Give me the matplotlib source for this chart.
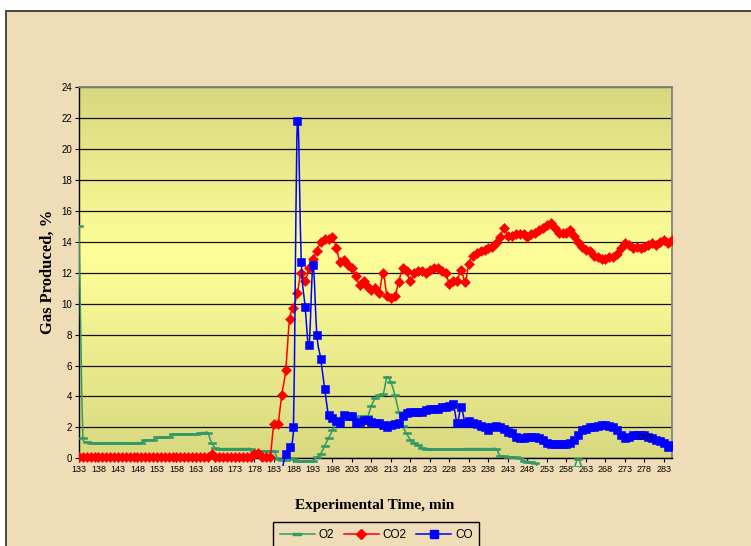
import numpy as np
import matplotlib
matplotlib.use("Agg")
import matplotlib.pyplot as plt
from matplotlib.path import Path
from matplotlib.patches import PathPatch, Rectangle
from matplotlib.lines import Line2D
from matplotlib.colors import LinearSegmentedColormap

# one reading per minute, 133 .. 285
minutes = np.arange(133, 286)

o2 = [
    15.0, 1.3, 1.05, 1.0, 1.0, 1.0, 1.0, 1.0, 1.0, 1.0,          # 133-142
    1.0, 1.0, 1.0, 1.0, 1.0, 1.0, 1.0, 1.15, 1.15, 1.15,          # 143-152
    1.35, 1.35, 1.35, 1.35, 1.55, 1.55, 1.55, 1.55, 1.55, 1.55,   # 153-162
    1.55, 1.65, 1.65, 1.65, 1.0, 0.65, 0.62, 0.62, 0.62, 0.62,    # 163-172
    0.62, 0.62, 0.62, 0.62, 0.62, 0.45, 0.45, 0.45, 0.45, 0.45,   # 173-182
    0.45, -0.05, -0.1, -0.1, 0.0, -0.05, -0.15, -0.2, -0.2, -0.2, # 183-192
    -0.15, 0.05, 0.3, 0.8, 1.3, 1.8, 2.3, 2.55, 2.55, 2.55,       # 193-202
    2.55, 2.55, 2.7, 2.7, 2.7, 3.4, 3.9, 4.1, 4.15, 5.25,         # 203-212
    4.9, 4.1, 3.0, 2.1, 1.6, 1.2, 1.0, 0.85, 0.65, 0.57,          # 213-222
    0.57, 0.57, 0.57, 0.57, 0.57, 0.57, 0.57, 0.57, 0.57, 0.62,   # 223-232
    0.62, 0.62, 0.62, 0.62, 0.62, 0.62, 0.62, 0.6, 0.15, 0.12,    # 233-242
    0.1, 0.08, 0.05, 0.0, -0.2, -0.25, -0.25, -0.3, -0.8, -1.0,   # 243-252
    -1.0, -1.0, -1.0, -1.0, -1.0, -1.0, -1.0, -0.6, -0.05, -0.6,  # 253-262
    -1.0, -1.0, -1.0, -1.0, -1.0, -1.0, -1.0, -1.0, -1.0, -1.0,   # 263-272
    -1.0, -1.0, -1.0, -1.0, -1.0, -1.0, -1.0, -1.0, -1.0, -1.0,   # 273-282
    -1.0, -1.0, -1.0,                                             # 283-285
]

co2 = [
    0.1, 0.1, 0.1, 0.1, 0.1, 0.1, 0.1, 0.1, 0.1, 0.1,             # 133-142
    0.1, 0.1, 0.1, 0.1, 0.1, 0.1, 0.1, 0.1, 0.1, 0.1,             # 143-152
    0.1, 0.1, 0.1, 0.1, 0.1, 0.1, 0.1, 0.1, 0.1, 0.1,             # 153-162
    0.1, 0.1, 0.1, 0.1, 0.3, 0.1, 0.1, 0.1, 0.1, 0.1,             # 163-172
    0.1, 0.1, 0.1, 0.1, 0.1, 0.3, 0.35, 0.1, 0.1, 0.1,            # 173-182
    2.2, 2.2, 4.1, 5.7, 9.0, 9.7, 10.7, 12.0, 11.5, 12.3,         # 183-192
    12.9, 13.4, 14.0, 14.2, 14.2, 14.3, 13.6, 12.7, 12.8, 12.5,   # 193-202
    12.3, 11.8, 11.2, 11.5, 11.1, 10.9, 11.0, 10.7, 12.0, 10.5,   # 203-212
    10.4, 10.5, 11.4, 12.3, 12.1, 11.5, 12.0, 12.1, 12.1, 12.0,   # 213-222
    12.2, 12.3, 12.3, 12.1, 12.0, 11.3, 11.5, 11.5, 12.2, 11.4,   # 223-232
    12.6, 13.1, 13.3, 13.4, 13.5, 13.6, 13.7, 13.9, 14.3, 14.9,   # 233-242
    14.4, 14.4, 14.5, 14.5, 14.5, 14.3, 14.5, 14.6, 14.8, 14.9,   # 243-252
    15.1, 15.2, 14.9, 14.6, 14.6, 14.6, 14.8, 14.4, 14.0, 13.7,   # 253-262
    13.5, 13.4, 13.1, 13.0, 12.9, 12.9, 13.0, 13.0, 13.2, 13.6,   # 263-272
    13.9, 13.8, 13.6, 13.7, 13.6, 13.7, 13.8, 13.9, 13.8, 14.0,   # 273-282
    14.1, 13.9, 14.1,                                             # 283-285
]

# CO only starts reading at 185 min
co_minutes = np.arange(185, 286)
co = [
    -0.9, 0.3, 0.7, 2.0, 21.8, 12.7, 9.8, 7.3,                    # 185-192
    12.5, 8.0, 6.4, 4.5, 2.8, 2.6, 2.4, 2.3, 2.8, 2.7,            # 193-202
    2.7, 2.3, 2.35, 2.45, 2.45, 2.35, 2.25, 2.25, 2.15, 2.0,      # 203-212
    2.15, 2.2, 2.3, 2.7, 2.9, 3.0, 3.0, 3.0, 3.0, 3.1,            # 213-222
    3.2, 3.2, 3.2, 3.3, 3.3, 3.4, 3.5, 2.3, 3.3, 2.3,             # 223-232
    2.4, 2.3, 2.2, 2.1, 2.0, 1.8, 2.0, 2.1, 2.0, 1.9,             # 233-242
    1.7, 1.6, 1.4, 1.3, 1.3, 1.4, 1.4, 1.4, 1.3, 1.2,             # 243-252
    1.0, 0.95, 0.9, 0.9, 0.9, 0.95, 1.0, 1.2, 1.5, 1.8,           # 253-262
    1.9, 2.0, 2.0, 2.1, 2.15, 2.15, 2.1, 2.0, 1.8, 1.5,           # 263-272
    1.3, 1.4, 1.5, 1.5, 1.5, 1.5, 1.4, 1.3, 1.2, 1.1,             # 273-282
    1.0, 0.75, 0.85,                                              # 283-285
]

x_ticks = np.arange(133, 284, 5)
y_ticks = np.arange(0, 25, 2)

GREEN = "#339966"
RED = "#FF0000"
BLUE = "#0000FF"
PAPER = "#EFDDB8"

SANS = ["Liberation Sans", "DejaVu Sans"]
SERIF = ["Liberation Serif", "DejaVu Serif"]

# Excel-like "dash" marker: a short flat bar
DASH = Path([(-1, -0.33), (1, -0.33), (1, 0.33), (-1, 0.33), (-1, -0.33)],
            [Path.MOVETO, Path.LINETO, Path.LINETO, Path.LINETO, Path.CLOSEPOLY])


def smooth_line(ax, xs, ys, clip, **kw):
    """Excel-style smoothed line: cubic Bezier through the points."""
    pts = ax.transData.transform(np.column_stack([xs, ys]))
    n = len(pts)
    verts = [pts[0]]
    codes = [Path.MOVETO]
    for i in range(n - 1):
        a, b = pts[i], pts[i + 1]
        prev = pts[i - 1] if i > 0 else a
        nxt = pts[i + 2] if i + 2 < n else b
        seg = np.hypot(*(b - a))
        t1 = (b - prev) / 6
        t2 = (nxt - a) / 6
        # don't let a handle run longer than its own segment
        l1, l2 = np.hypot(*t1), np.hypot(*t2)
        if l1 > seg:
            t1 = t1 * seg / l1
        if l2 > seg:
            t2 = t2 * seg / l2
        verts += [a + t1, b - t2, b]
        codes += [Path.CURVE4] * 3
    verts = ax.transData.inverted().transform(np.array(verts))
    patch = PathPatch(Path(verts, codes), fill=False, **kw)
    ax.add_patch(patch)
    patch.set_clip_path(clip)
    return patch


fig = plt.figure(figsize=(7.51, 5.46), dpi=100)
fig.patch.set_facecolor("white")

# parchment chart area with its dark frame line
fig.patches.append(Rectangle((6 / 751, -0.02), 1.05, 1.02 - 11 / 546,
                             transform=fig.transFigure, facecolor=PAPER,
                             edgecolor="#3a3a3a", linewidth=1.3, zorder=-10))

ax = fig.add_axes([79 / 751, (546 - 458.2) / 546,
                   (671.7 - 79) / 751, (458.2 - 87.4) / 546])
ax.set_xlim(133, 285)
ax.set_ylim(0, 24)

# khaki -> pale yellow -> khaki plot area
cmap = LinearSegmentedColormap.from_list(
    "plot_bg", [(0, "#D7D77F"), (0.45, "#FFFF99"), (1, "#D8D881")])
ax.imshow(np.linspace(0, 1, 256).reshape(-1, 1), cmap=cmap, aspect="auto",
          extent=(133, 285, 0, 24), origin="upper", zorder=0)

ax.set_axisbelow(True)
ax.grid(axis="y", color="#111111", linewidth=0.9)
ax.grid(axis="x", visible=False)

for side in ("left", "bottom"):
    ax.spines[side].set_color("black")
    ax.spines[side].set_linewidth(1.0)
for side in ("top", "right"):
    ax.spines[side].set_color("#808080")
    ax.spines[side].set_linewidth(1.3)

ax.set_xticks(x_ticks)
ax.set_xticklabels([str(t) for t in x_ticks], fontfamily=SANS, fontsize=6.5)
ax.set_yticks(y_ticks)
ax.set_yticklabels([str(v) for v in y_ticks], fontfamily=SANS, fontsize=7)
ax.tick_params(axis="both", direction="out", length=3, width=0.8,
               colors="black", pad=2)

# let the lines dip a few pixels under the axis like the original
clip = Rectangle((0, -0.02), 1, 1.02, transform=ax.transAxes,
                 facecolor="none", edgecolor="none")

series = [
    (minutes, o2, GREEN, dict(marker=DASH, ms=6)),
    (minutes, co2, RED, dict(marker="D", ms=4.6)),
    (co_minutes, co, BLUE, dict(marker="s", ms=5.2)),
]
for z, (xs, ys, col, mk) in enumerate(series):
    smooth_line(ax, xs, ys, clip, edgecolor=col, linewidth=1.1, zorder=3 + 2 * z)
    pts, = ax.plot(xs, ys, linestyle="none", color=col, mfc=col, mec=col,
                   mew=0.4, zorder=4 + 2 * z, **mk)
    pts.set_clip_path(clip)

ax.text(278.5, 1.37, "OHE", fontsize=5.5, fontfamily=SANS, ha="center",
        va="center", color="black", zorder=10)

fig.text(48 / 751, 1 - 272 / 546, "Gas Produced, %", rotation=90,
         ha="center", va="center", fontfamily=SERIF, fontweight="bold",
         fontsize=12)
fig.text(375 / 751, 1 - 505 / 546, "Experimental Time, min",
         ha="center", va="center", fontfamily=SERIF, fontweight="bold",
         fontsize=11)

handles = [
    Line2D([], [], color=GREEN, lw=1.1, marker=DASH, ms=6, mfc=GREEN, mec=GREEN),
    Line2D([], [], color=RED, lw=1.1, marker="D", ms=4.6, mfc=RED, mec=RED),
    Line2D([], [], color=BLUE, lw=1.1, marker="s", ms=5.2, mfc=BLUE, mec=BLUE),
]
leg = fig.legend(handles, ["O2", "CO2", "CO"], loc="upper center",
                 bbox_to_anchor=(376 / 751, 1 - 522 / 546), ncol=3,
                 frameon=True, fancybox=False, framealpha=1,
                 facecolor="none", edgecolor="black",
                 prop={"family": SANS, "size": 8.5},
                 handlelength=3.0, handletextpad=0.3, columnspacing=0.8,
                 borderpad=0.6, borderaxespad=0)
leg.get_frame().set_linewidth(1.0)

fig.savefig("out.png", dpi=100)
